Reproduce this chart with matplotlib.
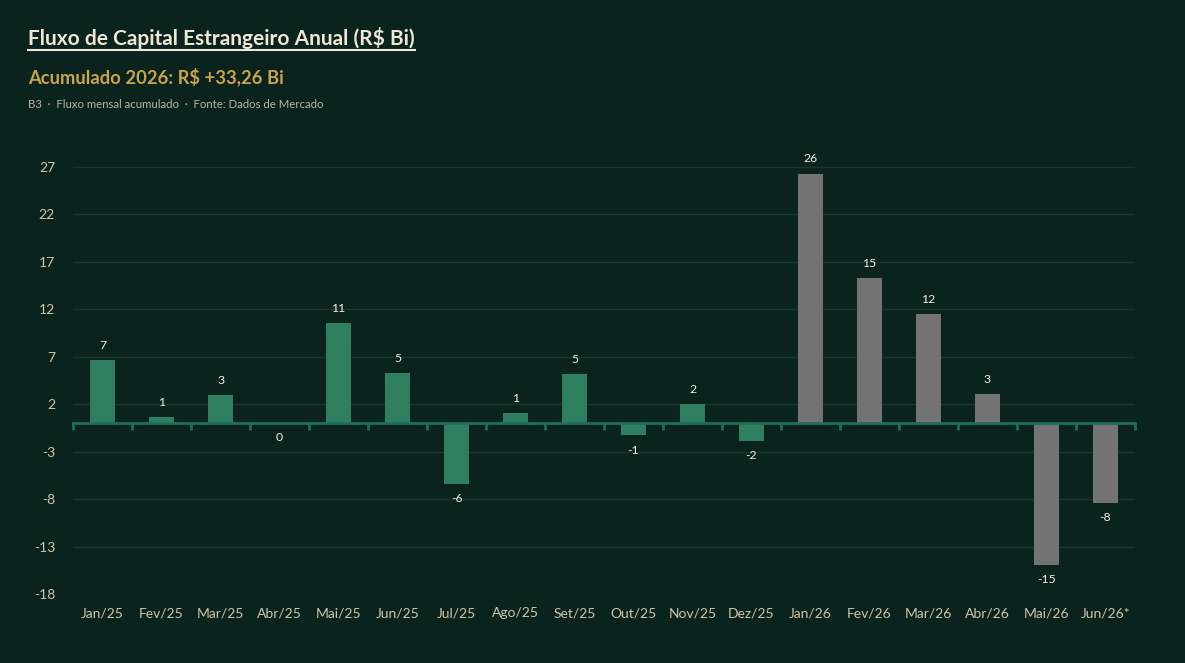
import numpy as np
import matplotlib
matplotlib.use("Agg")
import matplotlib.pyplot as plt
import matplotlib.transforms as mtransforms
from matplotlib.lines import Line2D

# ---- data ----
categories = ["Jan/25", "Fev/25", "Mar/25", "Abr/25", "Mai/25", "Jun/25",
              "Jul/25", "Ago/25", "Set/25", "Out/25", "Nov/25", "Dez/25",
              "Jan/26", "Fev/26", "Mar/26", "Abr/26", "Mai/26", "Jun/26*"]
values = [6.7, 0.6, 3.0, 0.0, 10.6, 5.3,
          -6.45, 1.1, 5.2, -1.3, 2.05, -1.9,
          26.3, 15.3, 11.5, 3.1, -14.95, -8.4]
year_2026 = [False] * 12 + [True] * 6
y_ticks = [-18, -13, -8, -3, 2, 7, 12, 17, 22, 27]

title = "Fluxo de Capital Estrangeiro Anual (R$ Bi)"
subtitle = "Acumulado 2026: R$ +33,26 Bi"
source = "B3  ·  Fluxo mensal acumulado  ·  Fonte: Dados de Mercado"

# ---- style ----
BG = "#0b231d"
GREEN = "#2e7f60"
GRAY = "#737373"
AXIS = "#1f6e5c"
GRID = "#19372c"
TICK = "#cfc6ab"
FONT = "Lato"

plt.rcParams["font.family"] = [FONT, "DejaVu Sans"]

fig = plt.figure(figsize=(11.85, 6.63), dpi=100, facecolor=BG)
ax = fig.add_axes([73 / 1185, 69 / 663, (1135 - 73) / 1185, (594 - 138.4) / 663])
ax.set_facecolor(BG)

x = np.arange(len(categories))
colors = [GRAY if f else GREEN for f in year_2026]
ax.bar(x, values, width=0.41, color=colors, zorder=3)

ax.set_xlim(-0.5, len(categories) - 0.5)
ax.set_ylim(-18, 30)
ax.set_yticks(y_ticks)
ax.set_yticklabels([str(t) for t in y_ticks])
ax.tick_params(axis="y", length=0, pad=13, labelsize=10, labelcolor=TICK)
ax.grid(axis="y", color=GRID, linewidth=1, zorder=0)
ax.grid(axis="x", visible=False)

for s in ["top", "right", "left"]:
    ax.spines[s].set_visible(False)
ax.spines["bottom"].set_position(("data", 0))
ax.spines["bottom"].set_color(AXIS)
ax.spines["bottom"].set_linewidth(2)
ax.spines["bottom"].set_zorder(4)

# category separator ticks on the zero line
ax.set_xticks(np.arange(len(categories) + 1) - 0.5)
ax.set_xticklabels([])
ax.tick_params(axis="x", length=5, width=2, color=AXIS, direction="out")

# category labels at bottom
blend = mtransforms.blended_transform_factory(ax.transData, ax.transAxes)
for i, c in enumerate(categories):
    ax.text(i, -0.042, c, transform=blend, ha="center", va="center",
            fontsize=10, color=TICK)

# value labels
for i, v in enumerate(values):
    lab = f"{int(round(v))}" if abs(v) >= 0.5 else "0"
    if v > 0:
        ax.annotate(lab, (i, v), xytext=(0, 6.5), textcoords="offset points",
                    ha="center", va="bottom", fontsize=8.8, color="#f2efe6")
    else:
        ax.annotate(lab, (i, v), xytext=(0, -6.5), textcoords="offset points",
                    ha="center", va="top", fontsize=8.8, color="#f2efe6")

# titles
t = fig.text(28 / 1185, 1 - 38 / 663, title, fontsize=15, fontweight="bold",
             color="#efe8d6", ha="left", va="center", parse_math=False)
fig.text(28 / 1185, 1 - 77 / 663, subtitle, fontsize=13.2, fontweight="bold",
         color="#c9a44a", ha="left", va="center", parse_math=False)
fig.text(28 / 1185, 1 - 104 / 663, source, fontsize=8.2, color="#b9b4a3",
         ha="left", va="center", parse_math=False)

fig.canvas.draw()
bb = t.get_window_extent(renderer=fig.canvas.get_renderer())
inv = fig.transFigure.inverted()
(x0, y0), (x1, y1) = inv.transform([(bb.x0, bb.y0), (bb.x1, bb.y0)])
fig.add_artist(Line2D([x0, x1], [y0 - 0.002, y0 - 0.002], transform=fig.transFigure,
                      color="#efe8d6", linewidth=1.5))

fig.savefig("out.png", dpi=100, facecolor=BG)
